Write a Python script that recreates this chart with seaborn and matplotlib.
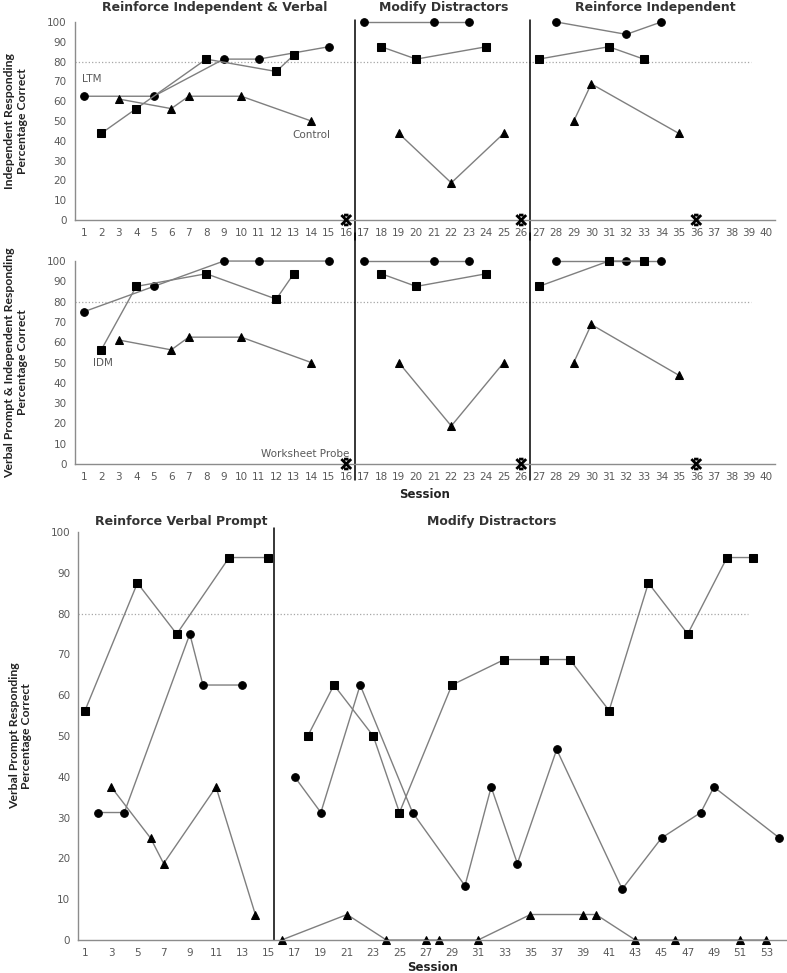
import seaborn as sns
import matplotlib.pyplot as plt
from matplotlib.path import Path

# sessions / percent correct, one list per phase so lines break at phase changes
# top panel: independent responding
ind_ltm_x = [[1, 5, 9, 11, 15], [17, 21, 23], [28, 32, 34]]
ind_ltm_y = [[62.5, 62.5, 81.25, 81.25, 87.5], [100, 100, 100], [100, 93.75, 100]]
ind_idm_x = [[2, 4, 8, 12, 13], [18, 20, 24], [27, 31, 33]]
ind_idm_y = [[43.75, 56.25, 81.25, 75, 83.3], [87.5, 81.25, 87.5], [81.25, 87.5, 81.25]]
ind_ctl_x = [[3, 6, 7, 10, 14], [19, 22, 25], [29, 30, 35]]
ind_ctl_y = [[61.1, 56.25, 62.5, 62.5, 50], [43.75, 18.75, 43.75], [50, 68.75, 43.75]]

# middle panel: verbal prompt & independent responding
vpi_ltm_x = [[1, 5, 9, 11, 15], [17, 21, 23], [28, 32, 34]]
vpi_ltm_y = [[75, 87.5, 100, 100, 100], [100, 100, 100], [100, 100, 100]]
vpi_idm_x = [[2, 4, 8, 12, 13], [18, 20, 24], [27, 31, 33]]
vpi_idm_y = [[56.25, 87.5, 93.75, 81.25, 93.75], [93.75, 87.5, 93.75], [87.5, 100, 100]]
vpi_ctl_x = [[3, 6, 7, 10, 14], [19, 22, 25], [29, 30, 35]]
vpi_ctl_y = [[61.1, 56.25, 62.5, 62.5, 50], [50, 18.75, 50], [50, 68.75, 43.75]]

probe_x = [16, 26, 36]
probe_y = [0, 0, 0]

# bottom panel: verbal prompt responding
vp_sq_x = [[1, 5, 8, 12, 15], [18, 20, 23, 25, 29, 33, 36, 38, 41, 44, 47, 50, 52]]
vp_sq_y = [[56.25, 87.5, 75, 93.75, 93.75],
           [50, 62.5, 50, 31.25, 62.5, 68.75, 68.75, 68.75, 56.25, 87.5, 75, 93.75, 93.75]]
vp_ci_x = [[2, 4, 9, 10, 13], [17, 19, 22, 26, 30, 32, 34, 37, 42, 45, 48, 49, 54]]
vp_ci_y = [[31.25, 31.25, 75, 62.5, 62.5],
           [40, 31.25, 62.5, 31.25, 13.3, 37.5, 18.75, 46.7, 12.5, 25, 31.25, 37.5, 25]]
vp_tr_x = [[3, 6, 7, 11, 14], [16, 21, 24, 27, 28, 31, 35, 39, 40, 43, 46, 51, 53]]
vp_tr_y = [[37.5, 25, 18.75, 37.5, 6.25],
           [0, 6.25, 0, 0, 0, 0, 6.25, 6.25, 6.25, 0, 0, 0, 0]]

line_gray = '#7f7f7f'
axis_gray = '#8c8c8c'
text_gray = '#595959'

# x with short bars top and bottom, like the excel probe marker
probe_marker = Path([(-1, -1), (1, 1), (-1, 1), (1, -1),
                     (-0.45, 1), (0.45, 1), (-0.45, -1), (0.45, -1)],
                    [Path.MOVETO, Path.LINETO, Path.MOVETO, Path.LINETO,
                     Path.MOVETO, Path.LINETO, Path.MOVETO, Path.LINETO])

sns.set_style('white')
plt.rcParams['font.family'] = ['DejaVu Sans']

fig = plt.figure(figsize=(7.87, 9.73), dpi=100)
ax1 = fig.add_axes([0.0953, 0.7739, 0.8895, 0.2035])
ax2 = fig.add_axes([0.0953, 0.5231, 0.8895, 0.2086])
ax3 = fig.add_axes([0.0997, 0.0339, 0.8990, 0.4193])


def draw_series(ax, xs, ys, marker, ms=5.5):
    for px, py in zip(xs, ys):
        sns.lineplot(x=px, y=py, ax=ax, estimator=None, sort=False,
                     color=line_gray, linewidth=1, marker=marker, markersize=ms,
                     markerfacecolor='k', markeredgecolor='k', clip_on=False)


def style_axis(ax, xmax_line):
    for s in ['top', 'right']:
        ax.spines[s].set_visible(False)
    for s in ['left', 'bottom']:
        ax.spines[s].set_color(axis_gray)
        ax.spines[s].set_linewidth(1)
    ax.set_ylim(0, 100)
    ax.set_yticks(range(0, 101, 10))
    ax.tick_params(axis='both', which='both', direction='out', length=3,
                   color=axis_gray, labelcolor=text_gray, labelsize=7.5, pad=3)
    ax.axhline(80, xmin=0, xmax=xmax_line, color='#a6a6a6', linestyle=':',
               linewidth=0.9, zorder=0)
    ax.set_xlabel('')


label_font = dict(family='Lato', weight='bold', size=8.8, color='#222222')

# top and middle panels
for ax, series, ylab in [
    (ax1, [(ind_ltm_x, ind_ltm_y, 'o'), (ind_idm_x, ind_idm_y, 's'), (ind_ctl_x, ind_ctl_y, '^')],
     'Independent Responding\nPercentage Correct'),
    (ax2, [(vpi_ltm_x, vpi_ltm_y, 'o'), (vpi_idm_x, vpi_idm_y, 's'), (vpi_ctl_x, vpi_ctl_y, '^')],
     'Verbal Prompt & Independent Responding\nPercentage Correct'),
]:
    for xs, ys, m in series:
        draw_series(ax, xs, ys, m)
    sns.scatterplot(x=probe_x, y=probe_y, ax=ax, marker=probe_marker, s=50,
                    facecolor='none', edgecolor='k', linewidth=2.0,
                    clip_on=False, zorder=5)
    ax.set_xlim(0.5, 40.5)
    ax.set_xticks(range(1, 41))
    style_axis(ax, 0.965)
    ax.set_ylabel(ylab, labelpad=14, **label_font)

ax1.axvline(16.5, ymin=-0.1, ymax=1.01, color='k', linewidth=1.1, clip_on=False)
ax1.axvline(26.5, ymin=-0.1, ymax=1.01, color='k', linewidth=1.1, clip_on=False)
ax2.axvline(16.5, ymin=-0.08, ymax=1.14, color='k', linewidth=1.1, clip_on=False)
ax2.axvline(26.5, ymin=-0.08, ymax=1.14, color='k', linewidth=1.1, clip_on=False)

ax1.text(0.9, 71, 'LTM', fontsize=7.5, color=text_gray, va='center')
ax1.text(14.0, 43, 'Control', fontsize=7.5, color=text_gray, va='center', ha='center')
ax2.text(2.1, 50, 'IDM', fontsize=7.5, color=text_gray, va='center', ha='center')
ax2.text(16.2, 5, 'Worksheet Probe', fontsize=7.5, color=text_gray, va='center', ha='right')
ax2.set_xlabel('Session', fontsize=8.5, fontweight='bold', color='#222222', labelpad=4)

# bottom panel
draw_series(ax3, vp_sq_x, vp_sq_y, 's')
draw_series(ax3, vp_ci_x, vp_ci_y, 'o')
draw_series(ax3, vp_tr_x, vp_tr_y, '^')
ax3.set_xlim(0.5, 54.5)
ax3.set_xticks(range(1, 54, 2))
ax3.set_xticks(range(1, 55), minor=True)
style_axis(ax3, 0.946)
ax3.set_ylabel('Verbal Prompt Responding\nPercentage Correct', labelpad=13, **label_font)
ax3.set_xlabel('Session', fontsize=8.5, fontweight='bold', color='#222222', labelpad=2)
ax3.axvline(15.45, ymin=0, ymax=1.01, color='k', linewidth=1.1, clip_on=False)

# phase titles
title_font = dict(fontsize=9, fontweight='bold', color='#333333', ha='center', va='center')
fig.text(215 / 787, 1 - 7 / 973, 'Reinforce Independent & Verbal', **title_font)
fig.text(444 / 787, 1 - 7 / 973, 'Modify Distractors', **title_font)
fig.text(655 / 787, 1 - 7 / 973, 'Reinforce Independent', **title_font)
fig.text(181 / 787, 1 - 522 / 973, 'Reinforce Verbal Prompt', **title_font)
fig.text(492 / 787, 1 - 522 / 973, 'Modify Distractors', **title_font)

fig.savefig('out.png', dpi=100)
